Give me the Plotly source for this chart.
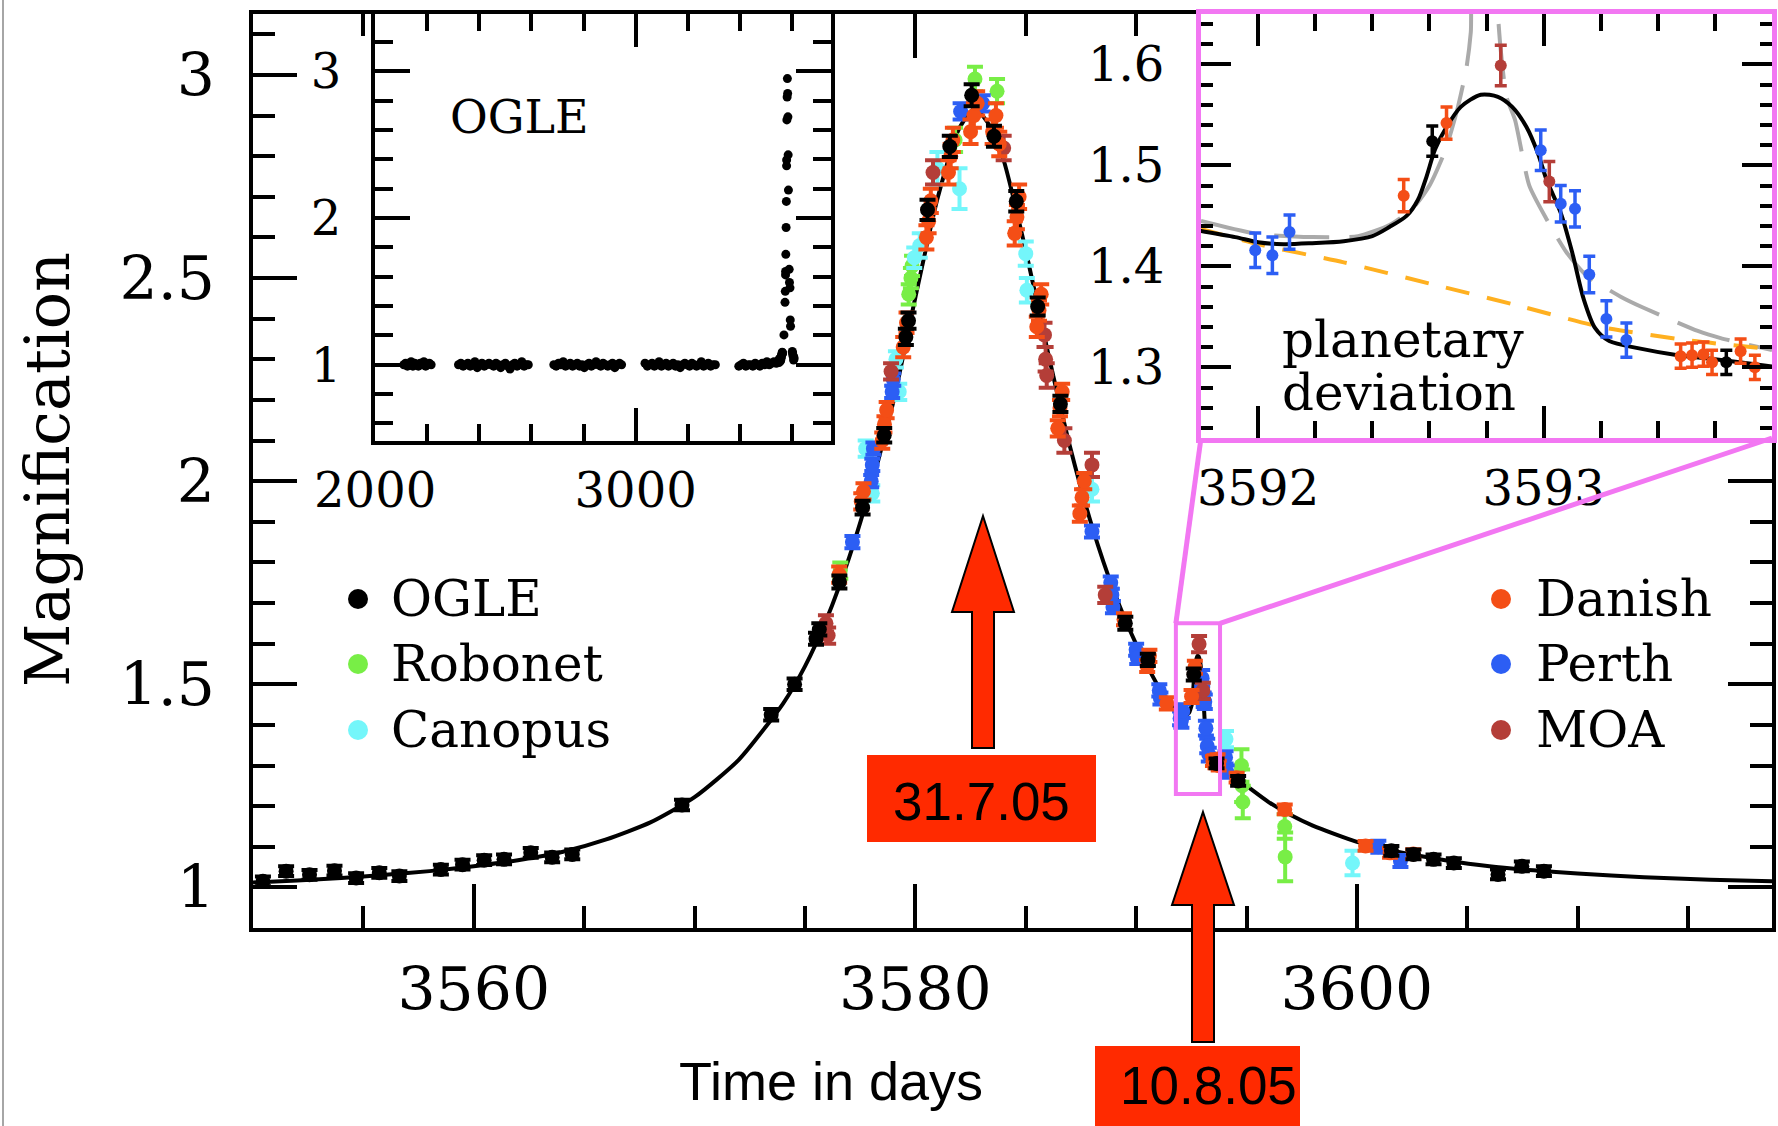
import plotly.graph_objects as go

W, H = 1778, 1126

# ---------------- data ----------------
# model light curve (black line)
model_t = [3550.0, 3552.0, 3554.0, 3556.0, 3558.0, 3560.0, 3562.0, 3564.0, 3566.0, 3568.0,
           3570.0, 3572.0, 3574.0, 3575.0, 3576.0, 3577.0, 3578.0, 3579.0, 3580.0, 3581.0,
           3582.0, 3582.7, 3583.4, 3584.0, 3585.0, 3586.0, 3587.0, 3588.0, 3589.0, 3590.0,
           3591.0, 3591.5, 3591.80, 3591.92, 3592.00, 3592.09, 3592.19, 3592.30, 3592.40,
           3592.46, 3592.52, 3592.56, 3592.59, 3592.62, 3592.66, 3592.71, 3592.78, 3592.84,
           3592.89, 3592.94, 3592.98, 3593.01, 3593.06, 3593.10, 3593.14, 3593.18, 3593.23,
           3593.33, 3593.47, 3593.60, 3593.74, 3594.0, 3594.5, 3595.0, 3596.0, 3597.0,
           3598.0, 3600.0, 3602.0, 3604.0, 3606.0, 3608.0, 3610.0, 3613.0, 3616.0, 3619.0]
model_a = [1.012, 1.017, 1.023, 1.031, 1.040, 1.052, 1.067, 1.087, 1.118, 1.160,
           1.222, 1.314, 1.452, 1.544, 1.663, 1.812, 1.990, 2.195, 2.452, 2.695,
           2.870, 2.918, 2.872, 2.790, 2.568, 2.318, 2.086, 1.889, 1.728, 1.599,
           1.495, 1.456, 1.435, 1.429, 1.424, 1.422, 1.423, 1.425, 1.430,
           1.439, 1.450, 1.466, 1.489, 1.516, 1.538, 1.558, 1.570, 1.568,
           1.558, 1.538, 1.512, 1.486, 1.453, 1.414, 1.368, 1.339, 1.326,
           1.319, 1.312, 1.308, 1.303, 1.293, 1.270, 1.250, 1.210, 1.178,
           1.152, 1.112, 1.086, 1.067, 1.052, 1.042, 1.034, 1.025, 1.019, 1.015]

# no-planet model (orange dashed, inset)
noplanet_t = [3591.8, 3592.0, 3592.3, 3592.6, 3592.9, 3593.2, 3593.5, 3593.8]
noplanet_a = [1.437, 1.422, 1.404, 1.383, 1.362, 1.340, 1.327, 1.318]

# alternative model (grey long dashed, inset)
alt_t = [3591.8, 3592.0, 3592.19, 3592.35, 3592.46, 3592.54, 3592.60, 3592.657, 3592.70,
         3592.73, 3592.745, 3592.76, 3592.83, 3592.84, 3592.85, 3592.87, 3592.90, 3592.95,
         3593.01, 3593.08, 3593.15, 3593.27, 3593.35, 3593.54, 3593.62, 3593.8]
alt_a = [1.445, 1.432, 1.429, 1.430, 1.441, 1.457, 1.480, 1.516, 1.558,
         1.597, 1.632, 1.72, 1.72, 1.650, 1.614, 1.568, 1.545, 1.480,
         1.447, 1.414, 1.391, 1.370, 1.359, 1.336, 1.329, 1.317]

ogle_t = [3550.45, 3551.50, 3552.56, 3553.69, 3554.67, 3555.72, 3556.63, 3558.51, 3559.49,
          3560.47, 3561.37, 3562.58, 3563.55, 3564.46, 3569.43, 3573.47, 3574.53, 3575.50,
          3575.65, 3576.56, 3577.61, 3578.59, 3579.57, 3579.69, 3580.55, 3581.56, 3582.55,
          3583.56, 3584.57, 3585.54, 3586.57, 3589.51, 3590.53, 3592.61, 3593.64, 3594.62,
          3601.56, 3602.56, 3603.47, 3604.39, 3606.39, 3607.47, 3608.47]
ogle_a = [1.015, 1.040, 1.031, 1.041, 1.023, 1.036, 1.028, 1.044, 1.056,
          1.067, 1.069, 1.085, 1.074, 1.081, 1.203, 1.425, 1.500, 1.612,
          1.635, 1.752, 1.935, 2.113, 2.355, 2.395, 2.668, 2.824, 2.950,
          2.849, 2.689, 2.430, 2.190, 1.650, 1.560, 1.524, 1.305, 1.262,
          1.090, 1.081, 1.069, 1.060, 1.032, 1.052, 1.040]
ogle_e = [0.012] * 14 + [0.013, 0.014, 0.014, 0.015, 0.015, 0.016, 0.017, 0.018, 0.020,
          0.020, 0.025, 0.026, 0.027, 0.026, 0.025, 0.022, 0.020, 0.016, 0.015, 0.015,
          0.012, 0.012] + [0.012] * 7

danish_t = [3576.55, 3577.55, 3577.65, 3578.50, 3578.60, 3578.70, 3579.45, 3579.60, 3580.50,
            3580.60, 3580.70, 3581.50, 3581.60, 3581.70, 3582.50, 3582.65, 3582.80, 3583.50,
            3583.65, 3583.80, 3584.50, 3584.60, 3584.70, 3585.50, 3585.60, 3585.70, 3586.45,
            3586.55, 3586.65, 3587.45, 3587.55, 3587.65, 3589.45, 3590.50, 3590.60, 3591.39,
            3592.51, 3592.66, 3593.48, 3593.52, 3593.56, 3593.59, 3593.69, 3593.74, 3594.55,
            3596.73, 3600.39, 3601.50, 3602.55]
danish_a = [1.770, 1.950, 1.975, 2.100, 2.140, 2.175, 2.330, 2.390, 2.600,
            2.640, 2.690, 2.760, 2.800, 2.840, 2.860, 2.900, 2.930, 2.860,
            2.900, 2.830, 2.610, 2.650, 2.700, 2.380, 2.420, 2.460, 2.130,
            2.180, 2.220, 1.920, 1.960, 2.000, 1.660, 1.545, 1.570, 1.453,
            1.470, 1.542, 1.311, 1.312, 1.313, 1.305, 1.316, 1.300, 1.270,
            1.192, 1.102, 1.085, 1.082]
danish_e = [0.020, 0.020, 0.020, 0.020, 0.020, 0.020, 0.025, 0.025, 0.030,
            0.030, 0.030, 0.030, 0.030, 0.030, 0.030, 0.030, 0.030, 0.030,
            0.030, 0.030, 0.030, 0.030, 0.030, 0.025, 0.025, 0.025, 0.020,
            0.020, 0.020, 0.020, 0.020, 0.020, 0.015, 0.015, 0.015, 0.015,
            0.016, 0.016, 0.012, 0.012, 0.012, 0.012, 0.012, 0.012, 0.012,
            0.012, 0.012, 0.012, 0.012]

perth_t = [3577.15, 3578.00, 3578.05, 3578.10, 3578.95, 3579.00, 3582.05, 3583.05, 3588.00,
           3588.85, 3588.90, 3588.95, 3590.00, 3590.05, 3591.05, 3591.10, 3591.99, 3592.05,
           3592.11, 3592.99, 3593.06, 3593.11, 3593.16, 3593.22, 3593.29, 3594.05, 3594.10,
           3600.97, 3601.97]
perth_a = [1.850, 2.000, 2.040, 2.080, 2.220, 2.250, 2.910, 2.930, 1.876,
           1.750, 1.720, 1.690, 1.585, 1.565, 1.485, 1.465, 1.416, 1.411,
           1.434, 1.515, 1.462, 1.457, 1.392, 1.348, 1.327, 1.320, 1.285,
           1.100, 1.065]
perth_e = [0.015, 0.015, 0.015, 0.015, 0.015, 0.015, 0.020, 0.020, 0.015,
           0.015, 0.015, 0.015, 0.015, 0.015, 0.015, 0.015, 0.017, 0.018,
           0.017, 0.020, 0.018, 0.018, 0.018, 0.018, 0.017, 0.015, 0.015,
           0.015, 0.015]

canopus_t = [3577.75, 3578.05, 3579.12, 3579.27, 3579.95, 3580.20, 3581.00, 3582.00, 3585.00,
             3585.05, 3588.00, 3594.07, 3599.80]
canopus_a = [2.080, 1.970, 2.300, 2.220, 2.550, 2.580, 2.770, 2.720, 2.560,
             2.470, 1.980, 1.365, 1.060]
canopus_e = [0.020, 0.020, 0.020, 0.020, 0.025, 0.030, 0.040, 0.050, 0.030,
             0.030, 0.030, 0.020, 0.030]

robonet_t = [3576.60, 3579.70, 3579.80, 3579.85, 3581.80, 3582.70, 3583.70, 3594.77, 3594.80,
             3594.83, 3596.73, 3596.75]
robonet_a = [1.780, 2.460, 2.500, 2.530, 2.840, 2.990, 2.960, 1.300, 1.250,
             1.210, 1.150, 1.075]
robonet_e = [0.020, 0.025, 0.025, 0.025, 0.030, 0.030, 0.030, 0.040, 0.040,
             0.040, 0.030, 0.060]

moa_t = [3575.95, 3576.05, 3578.90, 3580.80, 3584.00, 3585.85, 3585.90, 3585.95, 3586.75,
         3588.00, 3588.60, 3592.85, 3593.02]
moa_a = [1.650, 1.620, 2.270, 2.760, 2.820, 2.360, 2.300, 2.260, 2.100,
         2.040, 1.720, 1.599, 1.484]
moa_e = [0.020, 0.020, 0.020, 0.030, 0.030, 0.030, 0.030, 0.030, 0.030,
         0.030, 0.020, 0.020, 0.020]

# OGLE long-term baseline (left inset), one list per observing season
base_t1 = [2110, 2117, 2124, 2131, 2138, 2145, 2152, 2159, 2166, 2173, 2180, 2187, 2194,
           2201, 2208, 2215]
base_a1 = [1.00, 1.01, 0.99, 1.00, 1.02, 0.99, 1.01, 1.00, 0.99, 1.01, 1.00, 1.02, 0.99,
           1.00, 1.01, 1.00]
base_t2 = [2320, 2329, 2338, 2347, 2356, 2365, 2374, 2383, 2392, 2401, 2410, 2419, 2428,
           2437, 2446, 2455, 2464, 2473, 2482, 2491, 2500, 2509, 2518, 2527, 2536, 2545,
           2554, 2563, 2572, 2581, 2588]
base_a2 = [1.00, 1.01, 0.99, 1.00, 1.01, 0.99, 1.00, 1.02, 0.98, 1.00, 1.01, 0.99, 1.00,
           1.01, 1.00, 0.99, 1.01, 1.00, 0.98, 1.00, 1.01, 0.99, 0.97, 1.00, 1.01, 0.99,
           1.00, 1.02, 0.99, 1.00, 1.00]
base_t3 = [2686, 2695, 2704, 2713, 2722, 2731, 2740, 2749, 2758, 2767, 2776, 2785, 2794,
           2803, 2812, 2821, 2830, 2839, 2848, 2857, 2866, 2875, 2884, 2893, 2902, 2911,
           2920, 2929, 2938, 2946]
base_a3 = [1.00, 0.99, 1.01, 1.00, 1.02, 0.99, 1.00, 1.01, 0.99, 1.00, 1.01, 0.99, 1.00,
           0.98, 1.00, 1.01, 0.99, 1.00, 1.02, 1.00, 0.99, 1.01, 1.00, 0.99, 1.00, 1.01,
           0.98, 1.00, 1.01, 1.00]
base_t4 = [3036, 3045, 3054, 3063, 3072, 3081, 3090, 3099, 3108, 3117, 3126, 3135, 3144,
           3153, 3162, 3171, 3180, 3189, 3198, 3207, 3216, 3225, 3234, 3243, 3252, 3261,
           3270, 3279, 3288, 3297, 3306]
base_a4 = [1.01, 0.99, 1.00, 1.01, 0.99, 1.00, 1.02, 0.99, 1.00, 1.01, 0.99, 1.00, 1.01,
           0.99, 1.00, 0.98, 1.00, 1.01, 1.00, 0.99, 1.01, 1.00, 0.99, 1.00, 1.02, 0.99,
           1.00, 1.01, 0.99, 1.00, 1.00]
base_t5 = [3396, 3405, 3414, 3423, 3432, 3441, 3450, 3459, 3468, 3477, 3486, 3495, 3504,
           3513, 3522, 3531, 3540]
base_a5 = [0.99, 1.00, 1.01, 0.99, 1.00, 1.00, 0.99, 1.01, 1.00, 0.99, 1.01, 1.00, 1.02,
           1.00, 1.01, 1.02, 1.01]

legend_left = ["OGLE", "Robonet", "Canopus"]
legend_right = ["Danish", "Perth", "MOA"]
date_labels = ["31.7.05", "10.8.05"]

# ---------------- style ----------------
C_OGLE, C_ROBO, C_CANO = "black", "#78EE46", "#74F6FA"
C_DAN, C_PER, C_MOA = "#F44E16", "#2C5EF4", "#B43E38"
PINK = "#F277F2"
RED = "#FF2A00"
SERIF = "DejaVu Serif"
SANS = "Liberation Sans"

MAIN_X = [3550.0, 3618.8]
MAIN_Y = [0.9, 3.15]
INS1_X = [1999.5, 3750.0]
INS1_Y = [0.48, 3.39]
INS2_X = [3591.8, 3593.8]
INS2_Y = [1.23, 1.65]


def px(x):
    return x / W


def py(y):
    return 1 - y / H


main_dx = [px(253), px(1772)]
main_dy = [py(928), py(14)]
ins1_dx = [px(375), px(831)]
ins1_dy = [py(441), py(14)]
ins2_dx = [px(1201), px(1772)]
ins2_dy = [py(438), py(14)]


def main_to_paper(x, y):
    fx = main_dx[0] + (x - MAIN_X[0]) / (MAIN_X[1] - MAIN_X[0]) * (main_dx[1] - main_dx[0])
    fy = main_dy[0] + (y - MAIN_Y[0]) / (MAIN_Y[1] - MAIN_Y[0]) * (main_dy[1] - main_dy[0])
    return fx, fy


fig = go.Figure()


def points(t, a, e, color, xa, ya, size, ew, et):
    return go.Scatter(x=t, y=a, mode="markers", xaxis=xa, yaxis=ya,
                      marker=dict(color=color, size=size, line=dict(width=0)),
                      error_y=dict(type="data", array=e, visible=True, color=color,
                                   thickness=et, width=ew),
                      showlegend=False, hoverinfo="skip")


def white_bg(xr, yr, xa, ya):
    return go.Scatter(x=[xr[0], xr[1], xr[1], xr[0], xr[0]],
                      y=[yr[0], yr[0], yr[1], yr[1], yr[0]],
                      mode="lines", fill="toself", fillcolor="white",
                      line=dict(width=0, color="white"), xaxis=xa, yaxis=ya,
                      showlegend=False, hoverinfo="skip")


# main panel
fig.add_trace(go.Scatter(x=model_t, y=model_a, mode="lines",
                         line=dict(color="black", width=4, shape="spline", smoothing=0.6),
                         xaxis="x", yaxis="y", showlegend=False, hoverinfo="skip"))
for t, a, e, c in [(robonet_t, robonet_a, robonet_e, C_ROBO),
                   (canopus_t, canopus_a, canopus_e, C_CANO),
                   (perth_t, perth_a, perth_e, C_PER),
                   (moa_t, moa_a, moa_e, C_MOA),
                   (danish_t, danish_a, danish_e, C_DAN),
                   (ogle_t, ogle_a, ogle_e, C_OGLE)]:
    fig.add_trace(points(t, a, e, c, "x", "y", 15, 8, 4))

# left inset: OGLE long-term
fig.add_trace(white_bg(INS1_X, INS1_Y, "x2", "y2"))
fig.add_trace(go.Scatter(x=base_t1 + base_t2 + base_t3 + base_t4 + base_t5 + ogle_t,
                         y=base_a1 + base_a2 + base_a3 + base_a4 + base_a5 + ogle_a,
                         mode="markers", marker=dict(color="black", size=9),
                         xaxis="x2", yaxis="y2", showlegend=False, hoverinfo="skip"))

# right inset: planetary deviation
fig.add_trace(white_bg(INS2_X, INS2_Y, "x3", "y3"))
fig.add_trace(go.Scatter(x=alt_t, y=alt_a, mode="lines",
                         line=dict(color="#AAAAAA", width=4, dash="55px,20px",
                                   shape="spline", smoothing=0.6),
                         xaxis="x3", yaxis="y3", showlegend=False, hoverinfo="skip"))
fig.add_trace(go.Scatter(x=noplanet_t, y=noplanet_a, mode="lines",
                         line=dict(color="#FFB020", width=4, dash="24px,18px",
                                   shape="spline", smoothing=0.6),
                         xaxis="x3", yaxis="y3", showlegend=False, hoverinfo="skip"))
fig.add_trace(go.Scatter(x=model_t, y=model_a, mode="lines",
                         line=dict(color="black", width=4, shape="spline", smoothing=0.8),
                         xaxis="x3", yaxis="y3", showlegend=False, hoverinfo="skip"))
for t, a, e, c in [(perth_t, perth_a, perth_e, C_PER),
                   (danish_t, danish_a, danish_e, C_DAN),
                   (moa_t, moa_a, moa_e, C_MOA),
                   (ogle_t, ogle_a, ogle_e, C_OGLE)]:
    fig.add_trace(points(t, a, e, c, "x3", "y3", 12, 6, 3.5))


def axis(dom, rng, anchor, dtick, tick0, mdtick, tlen, mlen, fsize, standoff,
         lcolor="black", lwidth=4, twidth=4):
    return dict(domain=dom, range=rng, anchor=anchor, showline=True, linecolor=lcolor,
                linewidth=lwidth, mirror="ticks", ticks="inside", tickcolor="black",
                tickwidth=twidth, ticklen=tlen, dtick=dtick, tick0=tick0,
                minor=dict(dtick=mdtick, tick0=tick0, ticks="inside", ticklen=mlen,
                           tickwidth=twidth, tickcolor="black", showgrid=False),
                showgrid=False, zeroline=False, ticklabelstandoff=standoff,
                automargin=False,
                tickfont=dict(family=SERIF, size=fsize, color="black"))


layout = dict(
    width=W, height=H, autosize=False, margin=dict(l=0, r=0, t=0, b=0, pad=0),
    paper_bgcolor="white", plot_bgcolor="white", showlegend=False,
    xaxis=axis(main_dx, MAIN_X, "y", 20, 3500, 5, 44, 22, 60, 6),
    yaxis=axis(main_dy, MAIN_Y, "x", 0.5, 0, 0.1, 44, 22, 60, 22),
    xaxis2=axis(ins1_dx, INS1_X, "y2", 1000, 0, 200, 33, 17, 48, 4),
    yaxis2=axis(ins1_dy, INS1_Y, "x2", 1, 0, 0.2, 35, 18, 48, 20),
    xaxis3=axis(ins2_dx, INS2_X, "y3", 1, 0, 0.2, 32, 17, 48, 4, PINK, 5, 3.5),
    yaxis3=axis(ins2_dy, INS2_Y, "x3", 0.1, 0, 0.02, 30, 12, 48, 22, PINK, 5, 3.5),
)
fig.update_layout(**layout)

shapes = []
# thin grey border at the left edge of the picture
shapes.append(dict(type="line", xref="paper", yref="paper", x0=px(3), x1=px(3), y0=0, y1=1,
                   line=dict(color="#888888", width=1.5)))
# highlight box in the main panel (same ranges as the right inset)
shapes.append(dict(type="rect", xref="x", yref="y", x0=INS2_X[0], x1=INS2_X[1],
                   y0=INS2_Y[0], y1=INS2_Y[1], line=dict(color=PINK, width=4)))
# connector lines from the box to the inset
p1 = main_to_paper(INS2_X[0], INS2_Y[1])
p2 = main_to_paper(INS2_X[1], INS2_Y[1])
shapes.append(dict(type="line", xref="paper", yref="paper", x0=p1[0], y0=p1[1],
                   x1=ins2_dx[0], y1=ins2_dy[0], line=dict(color=PINK, width=5)))
shapes.append(dict(type="line", xref="paper", yref="paper", x0=p2[0], y0=p2[1],
                   x1=ins2_dx[1], y1=ins2_dy[0], line=dict(color=PINK, width=5)))


def arrow_path(cx, tip, head_base, bottom, hw, sw):
    pts_ = [(cx, tip), (cx + hw, head_base), (cx + sw, head_base), (cx + sw, bottom),
            (cx - sw, bottom), (cx - sw, head_base), (cx - hw, head_base)]
    return "M " + " L ".join(f"{px(x):.5f},{py(y):.5f}" for x, y in pts_) + " Z"


for cx, tip, hb, bot in [(983, 516, 612, 748), (1203, 812, 905, 1042)]:
    shapes.append(dict(type="path", xref="paper", yref="paper",
                       path=arrow_path(cx, tip, hb, bot, 31, 11),
                       fillcolor=RED, line=dict(color="black", width=2)))

# red date boxes
for x0, x1, y0, y1 in [(867, 1096, 755, 842), (1095, 1300, 1046, 1130)]:
    shapes.append(dict(type="rect", xref="paper", yref="paper", x0=px(x0), x1=px(x1),
                       y0=py(y1), y1=py(y0), fillcolor=RED, line=dict(width=0)))

# legend dots
leg_rows = [599, 664, 730]
for (cx, cols) in [(358, [C_OGLE, C_ROBO, C_CANO]), (1501, [C_DAN, C_PER, C_MOA])]:
    for cy, col in zip(leg_rows, cols):
        shapes.append(dict(type="circle", xref="paper", yref="paper",
                           x0=px(cx - 10), x1=px(cx + 10), y0=py(cy + 10), y1=py(cy - 10),
                           fillcolor=col, line=dict(width=0)))

fig.update_layout(shapes=shapes)

ann = []
for (tx, names) in [(389, legend_left), (1534, legend_right)]:
    for cy, name in zip(leg_rows, names):
        ann.append(dict(text=name, x=px(tx), y=py(cy), xref="paper", yref="paper",
                        xanchor="left", yanchor="middle", showarrow=False,
                        font=dict(family=SERIF, size=50, color="black")))
ann.append(dict(text="OGLE", x=px(519), y=py(117), xref="paper", yref="paper",
                xanchor="center", yanchor="middle", showarrow=False,
                font=dict(family=SERIF, size=46, color="black")))
ann.append(dict(text="planetary", x=px(1280), y=py(340), xref="paper", yref="paper",
                xanchor="left", yanchor="middle", showarrow=False,
                font=dict(family=SERIF, size=50, color="black")))
ann.append(dict(text="deviation", x=px(1280), y=py(393), xref="paper", yref="paper",
                xanchor="left", yanchor="middle", showarrow=False,
                font=dict(family=SERIF, size=50, color="black")))
ann.append(dict(text="Magnification", x=px(47), y=py(470), xref="paper", yref="paper",
                xanchor="center", yanchor="middle", showarrow=False, textangle=-90,
                font=dict(family=SERIF, size=62, color="black")))
ann.append(dict(text="Time in days", x=px(831), y=py(1081), xref="paper", yref="paper",
                xanchor="center", yanchor="middle", showarrow=False,
                font=dict(family=SANS, size=54, color="black")))
for (cx, cy), lab in zip([(981, 801), (1208, 1085)], date_labels):
    ann.append(dict(text=lab, x=px(cx), y=py(cy), xref="paper", yref="paper",
                    xanchor="center", yanchor="middle", showarrow=False,
                    font=dict(family=SANS, size=53, color="black")))
fig.update_layout(annotations=ann)

fig.write_html("out.html")
